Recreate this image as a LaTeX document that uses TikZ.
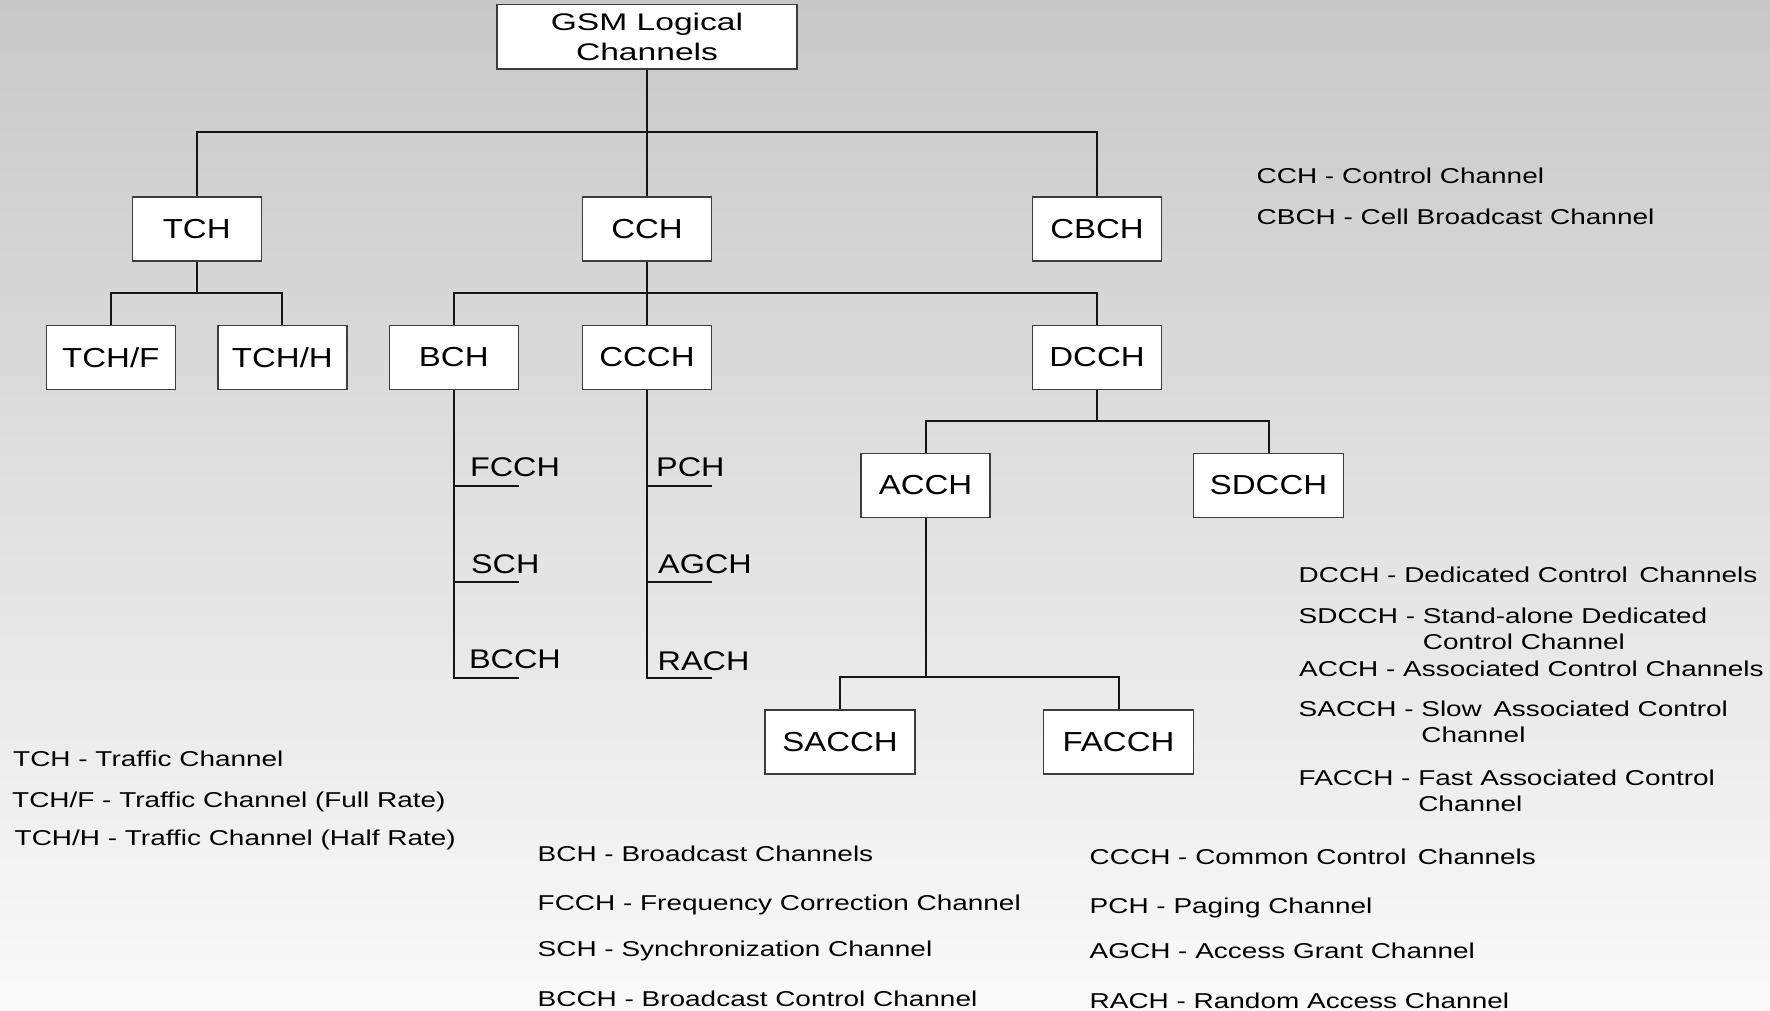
\documentclass[tikz,border=0pt]{standalone}
\usepackage{fontspec}
\setmainfont{Liberation Sans}[FakeStretch=1.3]
\newfontfamily\boxfont{Liberation Sans}[FakeStretch=1.2]
\newfontfamily\titlefont{Liberation Sans}[FakeStretch=1.4]
\usetikzlibrary{calc}

\definecolor{bgtop}{RGB}{200,200,200}
\definecolor{bgbot}{RGB}{250,250,250}
\definecolor{boxline}{RGB}{60,60,60}
\definecolor{wire}{RGB}{20,20,20}

\tikzset{
  chan/.style={draw=boxline, fill=white, line width=1.3pt, minimum width=129pt,
    minimum height=64pt, inner sep=0pt, font=\boxfont\fontsize{27.5}{33}\selectfont},
  widechan/.style={chan, minimum width=150pt},
  link/.style={draw=wire, line width=2pt},
  sublabel/.style={anchor=base west, inner sep=0pt, font=\boxfont\fontsize{27}{32}\selectfont},
  legend/.style={anchor=base west, inner sep=0pt, align=left,
    font=\fontsize{21.5}{26}\selectfont},
}

\newcommand{\hang}[2]{#1 - \begin{tabular}[t]{@{}l@{}}#2\end{tabular}}

\begin{document}
\begin{tikzpicture}[x=1pt, y=-1pt]
  % page and background
  \useasboundingbox (0,0) rectangle (1770,1011);
  \shade[top color=bgtop, bottom color=bgbot] (0,0) rectangle (1770,1011);

  % root
  \node[chan, minimum width=300pt, minimum height=64.5pt, align=center,
        font=\titlefont\fontsize{24}{30}\selectfont] (gsm) at (647,36.8)
        {GSM Logical\\Channels};

  % first level
  \node[chan] (tch)  at (196.7,229) {TCH};
  \node[chan] (cch)  at (647,229)   {CCH};
  \node[chan] (cbch) at (1097,229)  {CBCH};

  % second level
  \node[chan] (tchf) at (110.8,357.3) {TCH/F};
  \node[chan] (tchh) at (282.4,357.3) {TCH/H};
  \node[chan] (bch)  at (453.8,357.3) {BCH};
  \node[chan] (ccch) at (647,357.3)   {CCCH};
  \node[chan] (dcch) at (1097,357.3)  {DCCH};

  % dedicated control channels
  \node[chan]     (acch)  at (925.5,485.3)  {ACCH};
  \node[widechan] (sdcch) at (1268.5,485.3) {SDCCH};
  \node[widechan] (sacch) at (840,742)      {SACCH};
  \node[widechan] (facch) at (1118.5,742)   {FACCH};

  % tree connectors
  \draw[link] (gsm.south) -- (cch.north);
  \draw[link] (tch.north) -- ++(0,-64) -| (cbch.north);
  \draw[link] (tch.south) -- ++(0,32);
  \draw[link] (tchf.north) -- ++(0,-32) -| (tchh.north);
  \draw[link] (cch.south) -- (ccch.north);
  \draw[link] (bch.north) -- ++(0,-32) -| (dcch.north);
  \draw[link] (dcch.south) -- ++(0,32);
  \draw[link] (acch.north) -- ++(0,-32) -| (sdcch.north);
  \draw[link] (acch.south) -- ++(0,160);
  \draw[link] (sacch.north) -- ++(0,-32.5) -| (facch.north);

  % broadcast channel branches
  \coordinate (fcchT) at ($(bch.south)+(0,96.3)$);
  \coordinate (schT)  at ($(bch.south)+(0,192.3)$);
  \coordinate (bcchT) at ($(bch.south)+(0,288.3)$);
  \draw[link] (bch.south) -- (bcchT) -- (bcchT -| bch.east);
  \draw[link] (fcchT) -- (fcchT -| bch.east);
  \draw[link] (schT) -- (schT -| bch.east);
  \node[sublabel] (fcch) at ($(fcchT)+(16,-10)$)  {FCCH};
  \node[sublabel] (sch)  at ($(schT)+(17,-8.5)$)  {SCH};
  \node[sublabel] (bcch) at ($(bcchT)+(15,-9.5)$) {BCCH};

  % common control channel branches
  \coordinate (pchT)  at ($(ccch.south)+(0,96.3)$);
  \coordinate (agchT) at ($(ccch.south)+(0,192.3)$);
  \coordinate (rachT) at ($(ccch.south)+(0,288.3)$);
  \draw[link] (ccch.south) -- (rachT) -- (rachT -| ccch.east);
  \draw[link] (pchT) -- (pchT -| ccch.east);
  \draw[link] (agchT) -- (agchT -| ccch.east);
  \node[sublabel] (pch)  at ($(pchT)+(9,-10)$)   {PCH};
  \node[sublabel] (agch) at ($(agchT)+(11,-8.5)$) {AGCH};
  \node[sublabel] (rach) at ($(rachT)+(10.5,-8)$) {RACH};

  % abbreviations
  \node[legend] (lcch)  at (1256.5,183.8) {CCH - Control Channel};
  \node[legend] (lcbch) at (1256.5,225)   {CBCH - Cell Broadcast Channel};

  \node[legend] (ldcch)  at (1298.5,582.3) {DCCH - Dedicated Control\,\ Channels};
  \node[legend] (lsdcch) at (1298.5,623.3) {\hang{SDCCH}{Stand-alone Dedicated\\Control Channel}};
  \node[legend] (lacch)  at (1299,676.7)   {ACCH - Associated Control Channels};
  \node[legend] (lsacch) at (1298.5,716.7) {\hang{SACCH}{Slow\,\ Associated Control\\Channel}};
  \node[legend] (lfacch) at (1298.5,785.7) {\hang{FACCH}{Fast Associated Control\\Channel}};

  \node[legend] (ltch)  at (13,766)    {TCH - Traffic Channel};
  \node[legend] (ltchf) at (12,807.3)  {TCH/F - Traffic Channel (Full Rate)};
  \node[legend] (ltchh) at (14.5,845)  {TCH/H - Traffic Channel (Half Rate)};

  \node[legend] (lbch)  at (537.5,861.3) {BCH - Broadcast Channels};
  \node[legend] (lfcch) at (537.5,910)   {FCCH - Frequency Correction Channel};
  \node[legend] (lsch)  at (537.5,956.5) {SCH - Synchronization Channel};
  \node[legend] (lbcch) at (537.5,1006)  {BCCH - Broadcast Control Channel};

  \node[legend] (lccch) at (1089.5,864)   {CCCH - Common Control\,\ Channels};
  \node[legend] (lpch)  at (1089.5,913)   {PCH - Paging Channel};
  \node[legend] (lagch) at (1089.5,958.5) {AGCH - Access Grant Channel};
  \node[legend] (lrach) at (1089.5,1008.5){RACH - Random Access Channel};
\end{tikzpicture}
\end{document}
